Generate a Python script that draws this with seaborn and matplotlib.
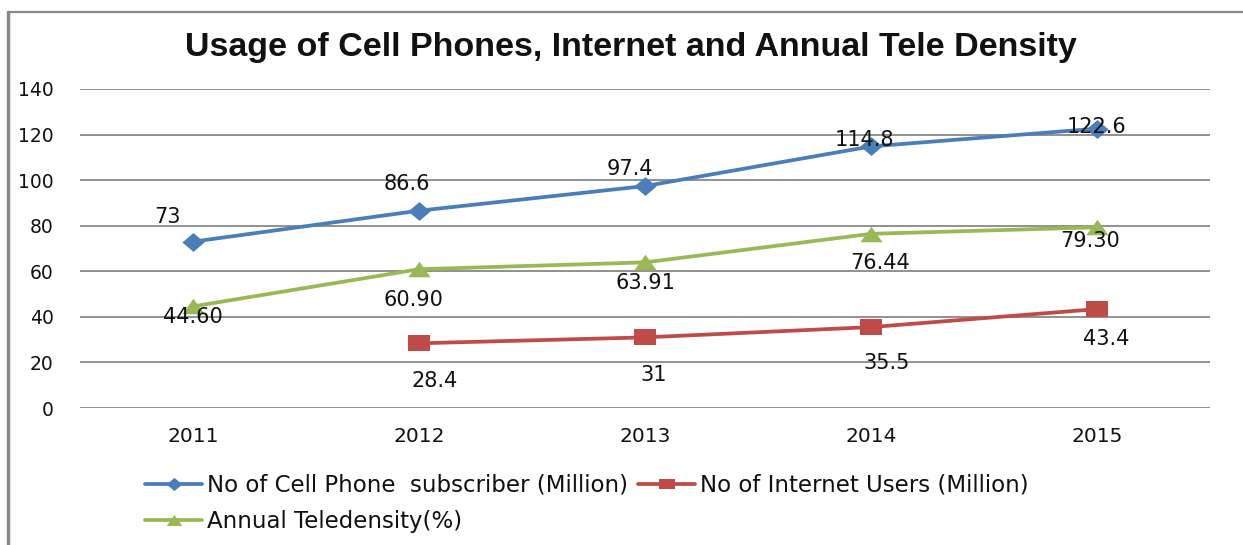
import matplotlib
matplotlib.use("Agg")
import matplotlib.pyplot as plt
from matplotlib.lines import Line2D
import numpy as np
import pandas as pd
import seaborn as sns

# Data
years = ["2011", "2012", "2013", "2014", "2015"]
cell_subscribers = [73, 86.6, 97.4, 114.8, 122.6]
internet_users = [np.nan, 28.4, 31, 35.5, 43.4]
teledensity = [44.60, 60.90, 63.91, 76.44, 79.30]

series_names = [
    "No of Cell Phone  subscriber (Million)",
    "No of Internet Users (Million)",
    "Annual Teledensity(%)",
]
title_text = "Usage of Cell Phones, Internet and Annual Tele Density"
y_ticks = [0, 20, 40, 60, 80, 100, 120, 140]

# Styling
colors = ["#4A7EBB", "#BE4B48", "#98B954"]
diamond = [(-1, 0), (0, -0.85), (1, 0), (0, 0.85)]
square = [(-1, -0.7), (1, -0.7), (1, 0.7), (-1, 0.7)]
triangle = [(-1, -0.7), (1, -0.7), (0, 0.7)]
markers = [diamond, square, triangle]
label_formats = ["{:g}", "{:g}", "{:.2f}"]
# label offsets (pixels) relative to each point
label_offsets = [
    [(-26, 25), (-12, 27), (-15, 17), (-7, 6), (0, 2)],
    [(0, 0), (16, -38), (9, -38), (16, -36), (9, -30)],
    [(0, -11), (-6, -31), (0, -21), (9, -29), (-7, -14)],
]

sns.set_theme(style="white")
plt.rcParams["font.family"] = ["DejaVu Sans"]
title_family = ["Liberation Sans", "DejaVu Sans"]

fig = plt.figure(figsize=(12.43, 5.45), dpi=100)
fig.patch.set_facecolor("white")
ax = fig.add_axes([80 / 1243, 1 - 408 / 545, 1130 / 1243, 319 / 545])

all_values = [cell_subscribers, internet_users, teledensity]
handles = []
for name, vals, col, mk, fmt, offs in zip(series_names, all_values, colors,
                                          markers, label_formats, label_offsets):
    df = pd.DataFrame({"year": years, "value": vals})
    sns.lineplot(data=df, x="year", y="value", ax=ax, color=col, lw=2.7,
                 marker=mk, markersize=16, markeredgewidth=0,
                 markerfacecolor=col, sort=False, legend=False, zorder=3)
    handles.append(ax.lines[-1])
    for i, (yr, v) in enumerate(zip(years, vals)):
        if np.isnan(v):
            continue
        ax.annotate(fmt.format(v), xy=(i, v), xytext=offs[i],
                    textcoords="offset pixels", ha="center", va="center",
                    fontsize=15, color="#111111", zorder=5)

ax.set_xlim(-0.5, len(years) - 0.5)
ax.set_ylim(0, 140)
ax.set_yticks(y_ticks)
ax.set_xlabel("")
ax.set_ylabel("")
ax.yaxis.grid(True, color="#888888", lw=1.3)
ax.xaxis.grid(False)
for s in ax.spines.values():
    s.set_visible(False)
ax.tick_params(axis="y", length=0, pad=19, labelsize=13.5, labelcolor="#111111")
ax.tick_params(axis="x", length=0, pad=14, labelsize=14.5, labelcolor="#111111")
ax.set_facecolor("white")

fig.text(631 / 1243, 1 - 47 / 545, title_text, ha="center", va="center",
         fontsize=24.5, fontweight="bold", family=title_family, color="#111111")

# legend: blue, red on first row, green on second
order = [0, 2, 1]
leg = fig.legend([handles[i] for i in order], [series_names[i] for i in order],
                 loc="upper left", bbox_to_anchor=(145 / 1243, 1 - 474 / 545),
                 ncol=2, frameon=False, markerscale=0.7, handlelength=2.5,
                 handletextpad=0.2, columnspacing=0.45, labelspacing=0.55,
                 borderpad=0, borderaxespad=0,
                 prop={"family": "DejaVu Sans", "size": 16.5})
for t in leg.get_texts():
    t.set_color("#111111")

# chart frame (left and top edges)
fig.add_artist(Line2D([8 / 1243, 8 / 1243], [0, 1 - 12 / 545],
                      transform=fig.transFigure, color="#888888", lw=2.5))
fig.add_artist(Line2D([8 / 1243, 1], [1 - 12 / 545, 1 - 12 / 545],
                      transform=fig.transFigure, color="#888888", lw=1.6))

fig.savefig("out.png", dpi=100, facecolor="white")
